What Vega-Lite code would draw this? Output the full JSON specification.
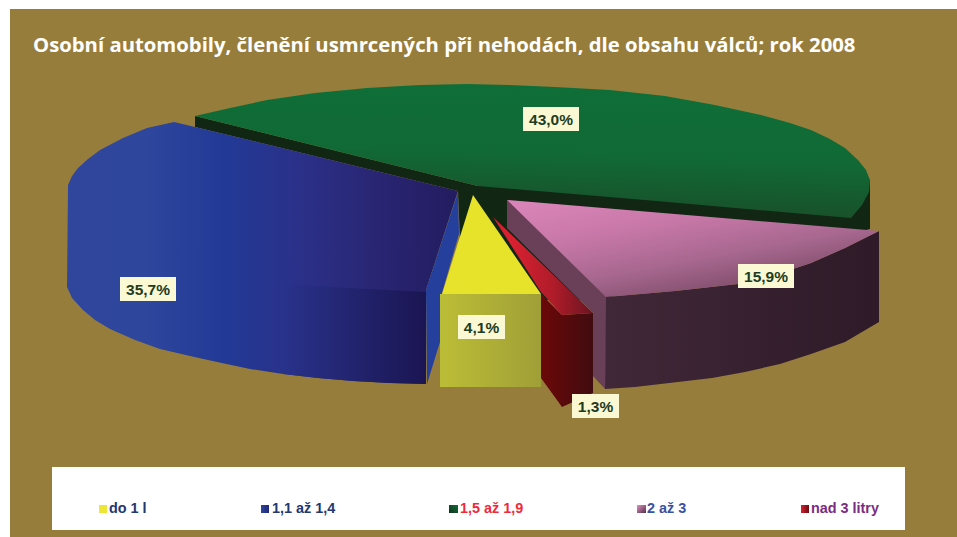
{
"$schema":"https://vega.github.io/schema/vega-lite/v6.json",
"width":957,"height":537,"padding":0,
"autosize":{"type":"fit","contains":"padding"},
"background":"#ffffff",
"view":{"stroke":null},
"datasets":{
"boxes":[
{"part":"frame","x":10,"x2":957,"y":9,"y2":537},
{"part":"legendbox","x":52,"x2":905,"y":467,"y2":530},
{"part":"label","x":523,"x2":579,"y":107,"y2":131},
{"part":"label","x":120,"x2":176,"y":277,"y2":301},
{"part":"label","x":738,"x2":794,"y":264,"y2":288},
{"part":"label","x":458,"x2":505,"y":315,"y2":339},
{"part":"label","x":572,"x2":619,"y":394,"y2":418},
{"part":"do 1 l","x":99,"x2":107,"y":505,"y2":513},
{"part":"1,1 až 1,4","x":261,"x2":269,"y":505,"y2":513},
{"part":"1,5 až 1,9","x":449,"x2":458,"y":505,"y2":513},
{"part":"2 až 3","x":637,"x2":646,"y":505,"y2":513},
{"part":"nad 3 litry","x":801,"x2":809,"y":505,"y2":513}
],
"labels":[
{"text":"43,0%","x":551,"y":119.5},
{"text":"35,7%","x":148,"y":289.5},
{"text":"15,9%","x":766,"y":276.5},
{"text":"4,1%","x":481.5,"y":327.5},
{"text":"1,3%","x":595.5,"y":406.5}
],
"legend":[
{"text":"do 1 l","x":109,"y":509,"c":"#22386f"},
{"text":"1,1 až 1,4","x":272,"y":509,"c":"#22386f"},
{"text":"1,5 až 1,9","x":460,"y":509,"c":"#ee2a3c"},
{"text":"2 až 3","x":647,"y":509,"c":"#3a52a0"},
{"text":"nad 3 litry","x":811,"y":509,"c":"#7a2c80"}
],
"shapes":[
{"p":"dark","i":1,"x":195,"y":116},{"p":"dark","i":2,"x":195,"y":127},{"p":"dark","i":3,"x":458,"y":191},{"p":"dark","i":4,"x":460,"y":240},{"p":"dark","i":5,"x":540,"y":300},{"p":"dark","i":6,"x":600,"y":300},{"p":"dark","i":7,"x":870,"y":229},{"p":"dark","i":8,"x":870,"y":180},{"p":"dark","i":9,"x":478,"y":186},
{"p":"green","i":1,"x":195,"y":116},{"p":"green","i":2,"x":230,"y":108},{"p":"green","i":3,"x":267,"y":100},{"p":"green","i":4,"x":315,"y":93},{"p":"green","i":5,"x":367,"y":88},{"p":"green","i":6,"x":420,"y":85},{"p":"green","i":7,"x":467,"y":84},{"p":"green","i":8,"x":510,"y":85},{"p":"green","i":9,"x":555,"y":87},{"p":"green","i":10,"x":610,"y":90},{"p":"green","i":11,"x":665,"y":96},{"p":"green","i":12,"x":715,"y":105},{"p":"green","i":13,"x":761,"y":115},{"p":"green","i":14,"x":790,"y":123},{"p":"green","i":15,"x":811,"y":130},{"p":"green","i":16,"x":830,"y":139},{"p":"green","i":17,"x":845,"y":148},{"p":"green","i":18,"x":858,"y":160},{"p":"green","i":19,"x":866,"y":170},{"p":"green","i":20,"x":870,"y":180},{"p":"green","i":21,"x":869,"y":192},{"p":"green","i":22,"x":862,"y":205},{"p":"green","i":23,"x":851,"y":218},{"p":"green","i":24,"x":645,"y":200},{"p":"green","i":25,"x":478,"y":186},
{"p":"blue","i":1,"x":174,"y":122},{"p":"blue","i":2,"x":147,"y":128},{"p":"blue","i":3,"x":123,"y":138},{"p":"blue","i":4,"x":100,"y":150},{"p":"blue","i":5,"x":88,"y":159},{"p":"blue","i":6,"x":78,"y":168},{"p":"blue","i":7,"x":72,"y":176},{"p":"blue","i":8,"x":68,"y":185},{"p":"blue","i":9,"x":67,"y":287},{"p":"blue","i":10,"x":72,"y":298},{"p":"blue","i":11,"x":83,"y":310},{"p":"blue","i":12,"x":95,"y":320},{"p":"blue","i":13,"x":110,"y":329},{"p":"blue","i":14,"x":135,"y":340},{"p":"blue","i":15,"x":160,"y":349},{"p":"blue","i":16,"x":190,"y":356},{"p":"blue","i":17,"x":217,"y":362},{"p":"blue","i":18,"x":250,"y":369},{"p":"blue","i":19,"x":283,"y":374},{"p":"blue","i":20,"x":318,"y":378},{"p":"blue","i":21,"x":353,"y":381},{"p":"blue","i":22,"x":390,"y":383},{"p":"blue","i":23,"x":426,"y":384},{"p":"blue","i":24,"x":426,"y":290},{"p":"blue","i":25,"x":458,"y":191},{"p":"blue","i":26,"x":195,"y":127},
{"p":"blueside","i":1,"x":280,"y":284},{"p":"blueside","i":2,"x":350,"y":288},{"p":"blueside","i":3,"x":426,"y":292},{"p":"blueside","i":4,"x":426,"y":384},{"p":"blueside","i":5,"x":390,"y":383},{"p":"blueside","i":6,"x":353,"y":381},{"p":"blueside","i":7,"x":318,"y":378},{"p":"blueside","i":8,"x":283,"y":374},
{"p":"bluecut","i":1,"x":458,"y":192},{"p":"bluecut","i":2,"x":459,"y":234},{"p":"bluecut","i":3,"x":442,"y":293},{"p":"bluecut","i":4,"x":440,"y":342},{"p":"bluecut","i":5,"x":427,"y":384},{"p":"bluecut","i":6,"x":426,"y":290},
{"p":"yellow","i":1,"x":473,"y":195},{"p":"yellow","i":2,"x":442,"y":294},{"p":"yellow","i":3,"x":541,"y":294},
{"p":"yellowside","i":1,"x":440,"y":294},{"p":"yellowside","i":2,"x":541,"y":294},{"p":"yellowside","i":3,"x":541,"y":387},{"p":"yellowside","i":4,"x":440,"y":387},
{"p":"redside","i":1,"x":541,"y":294},{"p":"redside","i":2,"x":562,"y":315},{"p":"redside","i":3,"x":593,"y":313},{"p":"redside","i":4,"x":593,"y":393},{"p":"redside","i":5,"x":562,"y":407},{"p":"redside","i":6,"x":541,"y":378},
{"p":"red","i":1,"x":493,"y":217},{"p":"red","i":2,"x":541,"y":292},{"p":"red","i":3,"x":562,"y":315},{"p":"red","i":4,"x":593,"y":313},
{"p":"pinkcut","i":1,"x":507,"y":200},{"p":"pinkcut","i":2,"x":607,"y":297},{"p":"pinkcut","i":3,"x":605,"y":389},{"p":"pinkcut","i":4,"x":593,"y":376},{"p":"pinkcut","i":5,"x":593,"y":313},{"p":"pinkcut","i":6,"x":507,"y":228},
{"p":"pinkside","i":1,"x":606,"y":297},{"p":"pinkside","i":2,"x":675,"y":291},{"p":"pinkside","i":3,"x":738,"y":284},{"p":"pinkside","i":4,"x":775,"y":275},{"p":"pinkside","i":5,"x":811,"y":263},{"p":"pinkside","i":6,"x":845,"y":248},{"p":"pinkside","i":7,"x":879,"y":231},{"p":"pinkside","i":8,"x":879,"y":322},{"p":"pinkside","i":9,"x":862,"y":332},{"p":"pinkside","i":10,"x":845,"y":342},{"p":"pinkside","i":11,"x":811,"y":354},{"p":"pinkside","i":12,"x":780,"y":364},{"p":"pinkside","i":13,"x":745,"y":372},{"p":"pinkside","i":14,"x":712,"y":378},{"p":"pinkside","i":15,"x":678,"y":382},{"p":"pinkside","i":16,"x":635,"y":387},{"p":"pinkside","i":17,"x":605,"y":389},
{"p":"pink","i":1,"x":507,"y":200},{"p":"pink","i":2,"x":879,"y":231},{"p":"pink","i":3,"x":845,"y":248},{"p":"pink","i":4,"x":811,"y":263},{"p":"pink","i":5,"x":775,"y":275},{"p":"pink","i":6,"x":738,"y":284},{"p":"pink","i":7,"x":675,"y":291},{"p":"pink","i":8,"x":606,"y":297}
]
},
"encoding":{
"x":{"field":"x","type":"quantitative","scale":{"domain":[0,957],"nice":false,"zero":false},"axis":null},
"y":{"field":"y","type":"quantitative","scale":{"domain":[537,0],"nice":false,"zero":false},"axis":null}
},
"layer":[
{"data":{"name":"boxes"},"transform":[{"filter":"datum.part==='frame'"}],"mark":{"type":"rect","fill":"#977d3c"},"encoding":{"x2":{"field":"x2"},"y2":{"field":"y2"}}},
{"data":{"name":"boxes"},"transform":[{"filter":"datum.part==='legendbox'"}],"mark":{"type":"rect","fill":"#ffffff"},"encoding":{"x2":{"field":"x2"},"y2":{"field":"y2"}}},
{"data":{"name":"shapes"},"transform":[{"filter":"datum.p==='dark'"}],"mark":{"type":"line","fill":"#122614","strokeWidth":0},"encoding":{"order":{"field":"i"}}},
{"data":{"name":"shapes"},"transform":[{"filter":"datum.p==='green'"}],"mark":{"type":"line","strokeWidth":0,"fill":{"x1":0.5,"y1":0,"x2":0.35,"y2":1,"gradient":"linear","stops":[{"offset":0,"color":"#0f6e38"},{"offset":0.5,"color":"#116a36"},{"offset":1,"color":"#1a4c28"}]}},"encoding":{"order":{"field":"i"}}},
{"data":{"name":"shapes"},"transform":[{"filter":"datum.p==='blue'"}],"mark":{"type":"line","strokeWidth":0,"fill":{"x1":0,"y1":0.5,"x2":1,"y2":0.5,"gradient":"linear","stops":[{"offset":0,"color":"#30469c"},{"offset":0.2,"color":"#2e469c"},{"offset":0.4,"color":"#223a96"},{"offset":0.6,"color":"#2b3088"},{"offset":0.8,"color":"#292572"},{"offset":1,"color":"#231c60"}]}},"encoding":{"order":{"field":"i"}}},
{"data":{"name":"shapes"},"transform":[{"filter":"datum.p==='blueside'"}],"mark":{"type":"line","strokeWidth":0,"fill":{"x1":0,"y1":0.5,"x2":1,"y2":0.5,"gradient":"linear","stops":[{"offset":0,"color":"#29338c"},{"offset":1,"color":"#1b1552"}]}},"encoding":{"order":{"field":"i"}}},
{"data":{"name":"shapes"},"transform":[{"filter":"datum.p==='bluecut'"}],"mark":{"type":"line","fill":"#24409c","strokeWidth":0},"encoding":{"order":{"field":"i"}}},
{"data":{"name":"shapes"},"transform":[{"filter":"datum.p==='yellowside'"}],"mark":{"type":"line","strokeWidth":0,"fill":{"x1":0,"y1":0.5,"x2":1,"y2":0.5,"gradient":"linear","stops":[{"offset":0,"color":"#bcbd36"},{"offset":1,"color":"#a09f38"}]}},"encoding":{"order":{"field":"i"}}},
{"data":{"name":"shapes"},"transform":[{"filter":"datum.p==='yellow'"}],"mark":{"type":"line","fill":"#e6e32a","strokeWidth":0},"encoding":{"order":{"field":"i"}}},
{"data":{"name":"shapes"},"transform":[{"filter":"datum.p==='redside'"}],"mark":{"type":"line","strokeWidth":0,"fill":{"x1":0,"y1":0.5,"x2":1,"y2":0.5,"gradient":"linear","stops":[{"offset":0,"color":"#6c0808"},{"offset":1,"color":"#400c10"}]}},"encoding":{"order":{"field":"i"}}},
{"data":{"name":"shapes"},"transform":[{"filter":"datum.p==='red'"}],"mark":{"type":"line","strokeWidth":0,"fill":{"x1":0.2,"y1":0.5,"x2":1,"y2":0.5,"gradient":"linear","stops":[{"offset":0,"color":"#d82030"},{"offset":0.5,"color":"#b01c2a"},{"offset":1,"color":"#6a1420"}]}},"encoding":{"order":{"field":"i"}}},
{"data":{"name":"shapes"},"transform":[{"filter":"datum.p==='pinkcut'"}],"mark":{"type":"line","fill":"#6a4058","strokeWidth":0},"encoding":{"order":{"field":"i"}}},
{"data":{"name":"shapes"},"transform":[{"filter":"datum.p==='pinkside'"}],"mark":{"type":"line","strokeWidth":0,"fill":{"x1":0,"y1":0.5,"x2":1,"y2":0.5,"gradient":"linear","stops":[{"offset":0,"color":"#412838"},{"offset":1,"color":"#2e1a28"}]}},"encoding":{"order":{"field":"i"}}},
{"data":{"name":"shapes"},"transform":[{"filter":"datum.p==='pink'"}],"mark":{"type":"line","strokeWidth":0,"fill":{"x1":0.1,"y1":0,"x2":0.8,"y2":1,"gradient":"linear","stops":[{"offset":0,"color":"#d984b8"},{"offset":0.3,"color":"#c878a8"},{"offset":0.6,"color":"#a86890"},{"offset":1,"color":"#6c4058"}]}},"encoding":{"order":{"field":"i"}}},
{"data":{"name":"boxes"},"transform":[{"filter":"datum.part==='label'"}],"mark":{"type":"rect","fill":"#fbf8d4"},"encoding":{"x2":{"field":"x2"},"y2":{"field":"y2"}}},
{"data":{"name":"labels"},"mark":{"type":"text","font":"Liberation Sans","fontWeight":"bold","fontSize":15.5,"fill":"#1e3c22","align":"center","baseline":"middle"},"encoding":{"text":{"field":"text"}}},
{"data":{"name":"boxes"},"transform":[{"filter":"datum.part==='do 1 l'"}],"mark":{"type":"rect","fill":"#eee636"},"encoding":{"x2":{"field":"x2"},"y2":{"field":"y2"}}},
{"data":{"name":"boxes"},"transform":[{"filter":"datum.part==='1,1 až 1,4'"}],"mark":{"type":"rect","fill":{"x1":0,"y1":0.5,"x2":1,"y2":0.5,"gradient":"linear","stops":[{"offset":0,"color":"#2c459c"},{"offset":1,"color":"#232a78"}]}},"encoding":{"x2":{"field":"x2"},"y2":{"field":"y2"}}},
{"data":{"name":"boxes"},"transform":[{"filter":"datum.part==='1,5 až 1,9'"}],"mark":{"type":"rect","fill":{"x1":1,"y1":0,"x2":0,"y2":1,"gradient":"linear","stops":[{"offset":0,"color":"#0f7038"},{"offset":1,"color":"#12301c"}]}},"encoding":{"x2":{"field":"x2"},"y2":{"field":"y2"}}},
{"data":{"name":"boxes"},"transform":[{"filter":"datum.part==='2 až 3'"}],"mark":{"type":"rect","fill":{"x1":0,"y1":0,"x2":1,"y2":1,"gradient":"linear","stops":[{"offset":0,"color":"#e090c0"},{"offset":1,"color":"#54304a"}]}},"encoding":{"x2":{"field":"x2"},"y2":{"field":"y2"}}},
{"data":{"name":"boxes"},"transform":[{"filter":"datum.part==='nad 3 litry'"}],"mark":{"type":"rect","fill":{"x1":0,"y1":0.5,"x2":1,"y2":0.5,"gradient":"linear","stops":[{"offset":0,"color":"#d82030"},{"offset":1,"color":"#6a0c14"}]}},"encoding":{"x2":{"field":"x2"},"y2":{"field":"y2"}}},
{"data":{"name":"legend"},"mark":{"type":"text","font":"Liberation Sans","fontWeight":"bold","fontSize":14.4,"align":"left","baseline":"middle"},"encoding":{"text":{"field":"text"},"color":{"field":"c","type":"nominal","scale":null}}},
{"data":{"values":[{"text":"Osobní automobily, členění usmrcených při nehodách, dle obsahu válců; rok 2008","x":33,"y":52}]},"mark":{"type":"text","font":"Open Sans","fontWeight":"bold","fontSize":20.3,"fill":"#ffffff","align":"left","baseline":"alphabetic"},"encoding":{"text":{"field":"text"}}}
]
}
